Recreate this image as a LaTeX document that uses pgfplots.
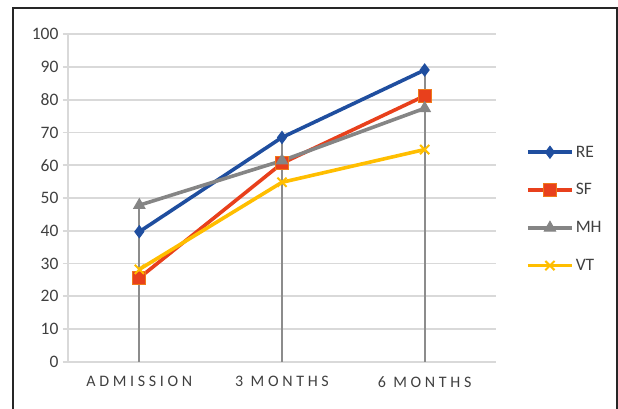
\documentclass[border=0pt]{standalone}
\usepackage{pgfplots}
\pgfplotsset{compat=1.18}
\usepackage{fontspec}
\setmainfont{Carlito}
\newfontfamily\spaced[LetterSpace=23]{Carlito}
\definecolor{cRE}{HTML}{1F4E9F}
\definecolor{cSF}{HTML}{E8401C}
\definecolor{cSFe}{HTML}{F07A1A}
\definecolor{cMH}{HTML}{858585}
\definecolor{cVT}{HTML}{FFBE00}
\definecolor{cDrop}{HTML}{8C8C8C}
\definecolor{cGrid}{HTML}{D9D9D9}
\definecolor{cTxt}{HTML}{404040}
\begin{document}
\begin{tikzpicture}
\path[use as bounding box] (0pt,0pt) rectangle (618pt,409pt);
\draw[line width=1.5pt, black!85] (13pt,-3pt) -- (13pt,401pt) -- (617pt,401pt) -- (617pt,-3pt);
\begin{axis}[
  at={(68pt,47.3pt)}, anchor=south west,
  scale only axis, width=428pt, height=327.4pt,
  xmin=-0.5, xmax=2.5, ymin=0, ymax=100,
  xtick={0,1,2}, xticklabels={ADMISSION,3 MONTHS,6 MONTHS},
  ytick={0,10,...,100},
  axis lines*=left,
  axis line style={-, draw=cGrid, line width=1.8pt},
  ymajorgrids, grid style={draw=cGrid, line width=1.8pt},
  tick align=outside,
  major tick length=5pt,
  ytick style={draw=cGrid, line width=1.8pt},
  xtick style={draw=none},
  /pgf/number format/assume math mode=true,
  y tick label style={font=\fontsize{17.5}{17.5}\selectfont, text=cTxt, xshift=-1pt},
  x tick label style={font=\spaced\fontsize{16}{16}\selectfont, text=cTxt, yshift=-6pt},
  legend style={draw=none, fill=none, at={(axis description cs:1.063,0.672)}, anchor=north west,
    font=\fontsize{17.5}{17.5}\selectfont, text=cTxt, row sep=21pt,
    /tikz/every even column/.append style={column sep=1pt}},
  legend cell align=left,
  legend image code/.code={\draw[mark repeat=2,mark phase=2] plot coordinates {(0pt,0pt)(22pt,0pt)(44pt,0pt)};},
]
\addplot[ycomb, draw=cDrop, line width=2.2pt, mark=none, forget plot] coordinates {(0,48)(1,68.5)(2,89.1)};
\addplot[cRE, line width=3.6pt, mark=diamond*, mark size=6pt, mark options={solid, line width=1pt}] coordinates {(0,39.7)(1,68.5)(2,89.1)};
\addlegendentry{RE}
\addplot[cSF, line width=3.6pt, mark=square*, mark size=6.5pt, mark options={fill=cSF, draw=cSFe, line width=1.2pt}] coordinates {(0,25.6)(1,60.6)(2,81.2)};
\addlegendentry{SF}
\addplot[cMH, line width=3.6pt, mark=triangle*, mark size=6.5pt, mark options={line width=1pt}] coordinates {(0,47.8)(1,61.4)(2,77.4)};
\addlegendentry{MH}
\addplot[cVT, line width=3.6pt, mark=x, mark size=6.5pt, mark options={line width=2pt}] coordinates {(0,28.2)(1,54.8)(2,64.8)};
\addlegendentry{VT}
\end{axis}
\end{tikzpicture}
\end{document}
